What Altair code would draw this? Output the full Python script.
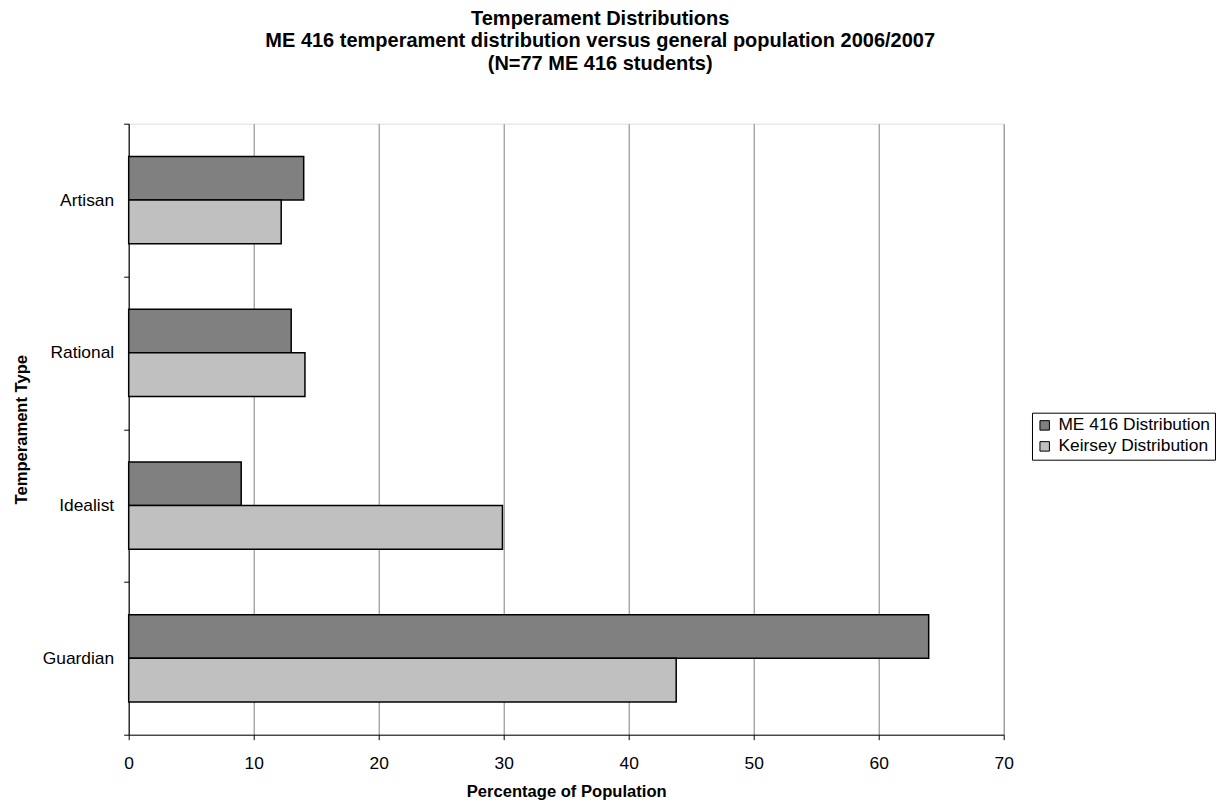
import altair as alt
import pandas as pd

types = ["Artisan", "Rational", "Idealist", "Guardian"]
series = ["ME 416 Distribution", "Keirsey Distribution"]
me416 = [14.0, 13.0, 9.0, 64.0]
keirsey = [12.2, 14.1, 29.9, 43.8]
x_ticks = [0, 10, 20, 30, 40, 50, 60, 70]
colors = ["#808080", "#c0c0c0"]

rows = []
for t, a, b in zip(types, me416, keirsey):
    rows.append({"type": t, "series": series[0], "value": a})
    rows.append({"type": t, "series": series[1], "value": b})
df = pd.DataFrame(rows)

FONT = "Liberation Sans"
W, H = 875, 611

chart = alt.Chart(df).mark_bar(stroke="black", strokeWidth=1.5).encode(
    x=alt.X(
        "value:Q",
        scale=alt.Scale(domain=[0, 70], nice=False, zero=True),
        axis=alt.Axis(
            values=x_ticks,
            title="Percentage of Population",
            grid=True,
            gridColor="#808080",
            gridWidth=1,
            domainColor="black",
            domainWidth=1,
            tickColor="black",
            tickSize=5,
            labelPadding=15,
            labelFlush=False,
            labelFont=FONT,
            labelFontSize=17.4,
            labelColor="black",
            titleFont=FONT,
            titleFontSize=16.6,
            titleFontWeight="bold",
            titleColor="black",
            titleBaseline="middle",
            titleY=57,
            titleX=W / 2,
        ),
    ),
    y=alt.Y(
        "type:N",
        sort=types,
        scale=alt.Scale(paddingInner=0, paddingOuter=0),
        axis=alt.Axis(
            title="Temperament Type",
            tickBand="extent",
            grid=False,
            domainColor="black",
            domainWidth=1,
            tickColor="black",
            tickSize=5,
            labelPadding=10,
            labelFont=FONT,
            labelFontSize=17.4,
            labelColor="black",
            titleFont=FONT,
            titleFontSize=16.6,
            titleFontWeight="bold",
            titleColor="black",
            titleBaseline="middle",
            titleAngle=270,
            titleX=-107.7,
            titleY=H / 2,
        ),
    ),
    yOffset=alt.YOffset(
        "series:N",
        sort=series,
        scale=alt.Scale(paddingInner=0, paddingOuter=0.75),
    ),
    color=alt.Color(
        "series:N",
        sort=series,
        scale=alt.Scale(domain=series, range=colors),
        legend=alt.Legend(
            title=None,
            orient="none",
            legendX=903.3,
            legendY=289,
            strokeColor="black",
            fillColor="white",
            padding=4,
            symbolType="square",
            symbolSize=90,
            symbolStrokeColor="black",
            symbolStrokeWidth=1,
            labelFont=FONT,
            labelFontSize=17.4,
            labelColor="black",
            labelOffset=5,
            rowPadding=2,
        ),
    ),
).properties(
    width=W,
    height=H,
    title=alt.TitleParams(
        text=[
            "Temperament Distributions",
            "ME 416 temperament distribution versus general population 2006/2007",
            "(N=77 ME 416 students)",
        ],
        font=FONT,
        fontSize=20,
        fontWeight="bold",
        color="black",
        lineHeight=22.5,
        anchor="middle",
        dx=34,
        offset=41,
    ),
    autosize=alt.AutoSizeParams(type="none"),
    padding={"left": 128.7, "top": 123.7, "right": 217, "bottom": 67},
).configure_view(
    stroke="#808080", strokeWidth=1
).configure(background="white")

chart.save("out.html", embed_options={"renderer": "svg", "actions": False})
